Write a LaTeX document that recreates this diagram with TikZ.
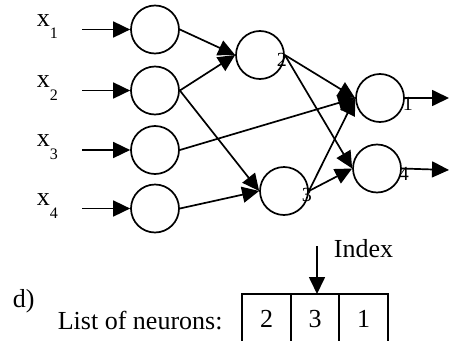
\documentclass[tikz,border=0pt]{standalone}
\usepackage{fontspec}
\setmainfont{Liberation Serif}
\usetikzlibrary{arrows.meta,positioning}
\tikzset{>={Triangle[length=17pt,width=16pt]}}
\tikzset{neuron/.style={circle,draw,minimum size=48pt,inner sep=0pt}}
\tikzset{cell/.style={rectangle,draw,minimum width=48.5pt,minimum height=50pt,outer sep=0pt,inner sep=0pt,font=\fontsize{26}{30}\selectfont}}
\tikzset{numlab/.style={inner sep=0pt,font=\fontsize{20}{24}\selectfont}}
\tikzset{bigtext/.style={inner sep=0pt,anchor=base west,font=\fontsize{26}{30}\selectfont}}
\newcommand{\inlab}[1]{x\raisebox{-13pt}{\fontsize{16}{16}\selectfont #1}}

\begin{document}
\begin{tikzpicture}[x=1pt,y=-1pt,line width=1.7pt]
    \useasboundingbox (0,0) rectangle (449,340);

    % input layer
    \node[neuron] (i1) at (155,29.5)  {};
    \node[neuron] (i2) at (155,90.5)  {};
    \node[neuron] (i3) at (155,150)   {};
    \node[neuron] (i4) at (155,208.5) {};
    % hidden and output neurons
    \node[neuron] (h2) at (260,55)    {};
    \node[neuron] (h3) at (284,191)   {};
    \node[neuron] (o1) at (380,98)    {};
    \node[neuron] (o4) at (377,168.5) {};

    \node[numlab] (h2num) at ([xshift=-3pt,yshift=-5pt]h2.east) {2};
    \node[numlab] (h3num) at ([xshift=-2pt,yshift=-4pt]h3.east) {3};
    \node[numlab] (o1num) at ([xshift=3pt,yshift=-6pt]o1.east)  {1};
    \node[numlab] (o4num) at ([xshift=2pt,yshift=-5pt]o4.east)  {4};

    % inputs
    \foreach \i/\y in {1/29.5,2/90.5,3/150,4/208.5}{
        \coordinate (s\i) at (82,\y);
        \node[inner sep=0pt,anchor=base west,font=\fontsize{26}{28}\selectfont] (x\i) at (36,\y-3.5) {\inlab{\i}};
        \draw[->] (s\i) -- (i\i.west);
    }

    \coordinate (e1) at (449,98);
    \coordinate (e4) at (449,170);

    \path[->]
        (i1.east) edge (h2.west)
        (i2.east) edge (h2.west)
        (i2.east) edge (h3.west)
        (i3.east) edge (o1.west)
        (i4.east) edge (h3.west)
        (h2.east) edge (o1.west)
        (h2.east) edge (o4.west)
        (h3.east) edge (o1.west)
        (h3.east) edge (o4.west)
        (o1.east) edge (e1)
        (o4.east) edge (e4)
        ;

    % list of neurons
    \node[cell] (c1) at (266.5,319) {2};
    \node[cell] (c2) [right=0pt of c1] {3};
    \node[cell] (c3) [right=0pt of c2] {1};

    \node[bigtext] (dlab) at (12,307) {d)};
    \node[bigtext] (list) at (57,329) {List of neurons:};
    \node[bigtext] (index) at (333,257) {Index};
    \coordinate (itop) at ([xshift=2pt,yshift=48pt]c2.north);
    \draw[->] (itop) -- ([xshift=2pt]c2.north);
\end{tikzpicture}
\end{document}
